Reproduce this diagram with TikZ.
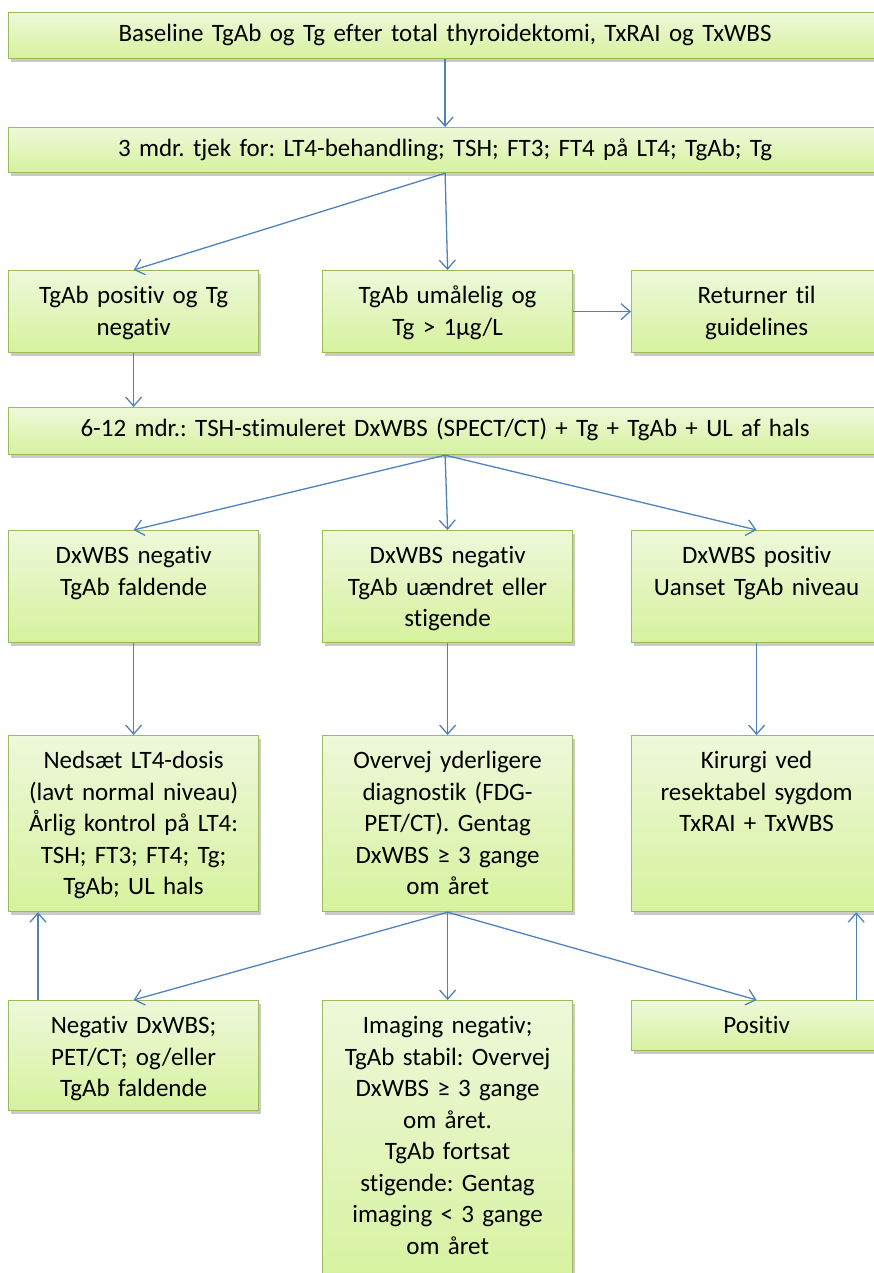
\documentclass[tikz,border=0pt]{standalone}
\usepackage{fontspec}
\setmainfont{Carlito}[Ligatures=NoCommon]
\usetikzlibrary{arrows.meta,shadows}
\definecolor{boxline}{HTML}{9BBB59}
\definecolor{boxtop}{HTML}{EEF8DA}
\definecolor{boxbot}{HTML}{D6F29E}
\definecolor{arrowblue}{HTML}{4F81BD}
\frenchspacing

\begin{document}
\begin{tikzpicture}[x=1pt,y=-1pt,
    box/.style={draw=boxline, line width=1.2pt, top color=boxtop, bottom color=boxbot,
      drop shadow={shadow xshift=2pt, shadow yshift=-3pt, fill=black!60, opacity=0.35},
      anchor=north west, align=center, text width=240pt, inner xsep=5pt,
      inner ysep=14pt, text height=19pt, font=\fontsize{25}{31.5}\selectfont},
    widebox/.style={box, text width=863pt, inner ysep=10pt},
    arr/.style={draw=arrowblue, line width=1.3pt, -{Straight Barb[length=9pt,width=16pt]}}]
      \useasboundingbox (0,0) rectangle (874,1273);
      % Top row
      \node[widebox, text depth=7pt] (base) at (8,12) {Baseline TgAb og Tg efter total thyroidektomi, TxRAI og TxWBS};
      \node[widebox, text depth=6pt] (mdr3) at (8,127) {3 mdr. tjek for: LT4-behandling; TSH; FT3; FT4 på LT4; TgAb; Tg};
      % First split
      \node[box, text depth=35pt] (tgpos) at (8,270) {TgAb positiv og Tg\\negativ};
      \node[box, text depth=35pt] (tgum) at (322,270) {TgAb umålelig og\\Tg > 1µg/L};
      \node[box, text depth=35pt] (retur) at (631,270) {Returner til\\guidelines};
      \node[widebox, text depth=8pt] (mdr6) at (8,407) {6-12 mdr.: TSH-stimuleret DxWBS (SPECT/CT) + Tg + TgAb + UL af hals};
      % DxWBS results
      \node[box, text depth=65pt] (dxneg) at (8,530) {DxWBS negativ\\TgAb faldende};
      \node[box, text depth=65pt] (dxstig) at (322,530) {DxWBS negativ\\TgAb uændret eller\\stigende};
      \node[box, text depth=65pt] (dxpos) at (631,530) {DxWBS positiv\\Uanset TgAb niveau};
      % Actions
      \node[box, text depth=129pt] (nedsaet) at (8,735) {Nedsæt LT4-dosis\\(lavt normal niveau)\\Årlig kontrol på LT4:\\TSH; FT3; FT4; Tg;\\TgAb; UL hals};
      \node[box, text depth=129pt] (overvej) at (322,735) {Overvej yderligere\\diagnostik (FDG-\\PET/CT). Gentag\\DxWBS ≥ 3 gange\\om året};
      \node[box, text depth=129pt] (kirurgi) at (631,735) {Kirurgi ved\\resektabel sygdom\\TxRAI + TxWBS};
      % Bottom row
      \node[box, text depth=63pt] (negdx) at (8,1000) {Negativ DxWBS;\\PET/CT; og/eller\\TgAb faldende};
      \node[box, text depth=243pt] (imgneg) at (322,1000) {Imaging negativ;\\TgAb stabil: Overvej\\DxWBS ≥ 3 gange\\om året.\\TgAb fortsat\\stigende: Gentag\\imaging < 3 gange\\om året};
      \node[box, text depth=3pt] (positiv) at (631,1000) {Positiv};
      % Arrows
      \draw[arr] (base.south) -- (mdr3.north);
      \draw[arr] (mdr3.south) -- (tgpos.north);
      \draw[arr] (mdr3.south) -- (tgum.north);
      \draw[arr] (tgum.east) -- (retur.west);
      \draw[arr] (tgpos.south) -- (tgpos.south |- mdr6.north);
      \draw[arr] (mdr6.south) -- (dxneg.north);
      \draw[arr] (mdr6.south) -- (dxstig.north);
      \draw[arr] (mdr6.south) -- (dxpos.north);
      \draw[arr] (dxneg.south) -- (nedsaet.north);
      \draw[arr] (dxstig.south) -- (overvej.north);
      \draw[arr] (dxpos.south) -- (kirurgi.north);
      \draw[arr] (overvej.south) -- (negdx.north);
      \draw[arr] (overvej.south) -- (imgneg.north);
      \draw[arr] (overvej.south) -- (positiv.north);
      \draw[arr] ([xshift=30pt]negdx.north west) -- ([xshift=30pt]nedsaet.south west);
      \draw[arr] ([xshift=-26pt]positiv.north east) -- ([xshift=-26pt]kirurgi.south east);
    \end{tikzpicture}
\end{document}
